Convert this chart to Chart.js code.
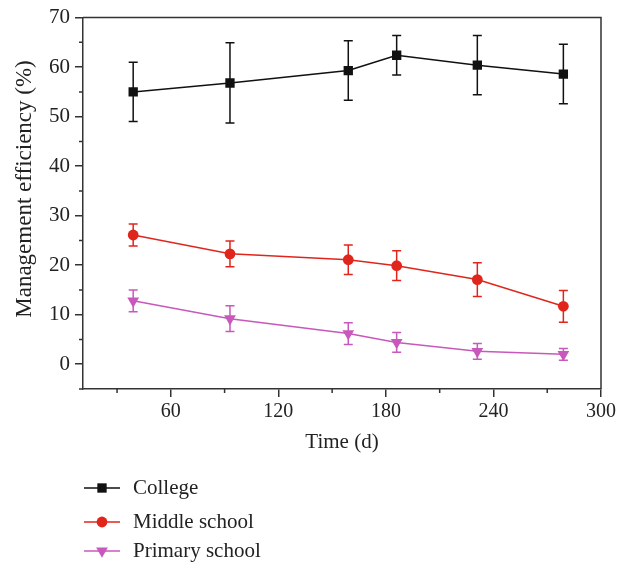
<!DOCTYPE html>
<html><head><meta charset="utf-8">
<script src="https://cdn.jsdelivr.net/npm/chart.js@4.4.0/dist/chart.umd.min.js"></script>
<style>html,body{margin:0;padding:0;background:#fff;}canvas{display:block;}</style>
</head><body>
<canvas id="c" width="628" height="565"></canvas>
<script>
const days = [39, 93, 159, 186, 231, 279];
const collegeValues = [55.0, 56.8, 59.3, 62.4, 60.4, 58.6];
const collegeErrors = [6.0, 8.1, 6.0, 4.0, 6.0, 6.0];
const middleValues = [26.1, 22.3, 21.1, 19.9, 17.1, 11.7];
const middleErrors = [2.2, 2.6, 3.0, 3.0, 3.4, 3.2];
const primaryValues = [12.8, 9.2, 6.2, 4.4, 2.6, 2.0];
const primaryErrors = [2.2, 2.6, 2.2, 2.0, 1.6, 1.2];
const seriesNames = ['College', 'Middle school', 'Primary school'];
const xTickValues = [60, 120, 180, 240, 300];
const xMinorTicks = [30, 90, 150, 210, 270];
const yTickValues = [0, 10, 20, 30, 40, 50, 60, 70];
const yMinorTicks = [-5, 5, 15, 25, 35, 45, 55, 65];
const xTitle = 'Time (d)';
const yTitle = 'Management efficiency (%)';

const FONT = "'Liberation Serif', 'DejaVu Serif', serif";
const AX = '#333';

function pts(vals){ return days.map((d,i)=>({x:d, y:vals[i]})); }

function drawMarker(ctx, style, x, y, r, color){
  ctx.save();
  ctx.fillStyle = color;
  ctx.beginPath();
  if (style === 'rect'){ const s = r*Math.SQRT1_2; ctx.rect(x-s, y-s, 2*s, 2*s); }
  else if (style === 'circle'){ ctx.arc(x, y, r, 0, Math.PI*2); }
  else {
    ctx.moveTo(x, y + r);
    ctx.lineTo(x - r*Math.sin(Math.PI/3), y - r*0.5);
    ctx.lineTo(x + r*Math.sin(Math.PI/3), y - r*0.5);
    ctx.closePath();
  }
  ctx.fill(); ctx.restore();
}

const errorBars = {
  id: 'errorBars',
  beforeDatasetsDraw(chart){
    const ctx = chart.ctx, xs = chart.scales.x, ys = chart.scales.y;
    chart.data.datasets.forEach(ds => {
      ctx.save();
      ctx.strokeStyle = ds.borderColor; ctx.lineWidth = 1.5;
      ds.data.forEach((p, i) => {
        const e = ds.errors[i];
        const px = xs.getPixelForValue(p.x);
        const top = ys.getPixelForValue(p.y + e), bot = ys.getPixelForValue(p.y - e);
        ctx.beginPath();
        ctx.moveTo(px, top); ctx.lineTo(px, bot);
        ctx.moveTo(px-4.5, top); ctx.lineTo(px+4.5, top);
        ctx.moveTo(px-4.5, bot); ctx.lineTo(px+4.5, bot);
        ctx.stroke();
      });
      ctx.restore();
    });
  }
};

const frame = {
  id: 'frame',
  afterDraw(chart){
    const ctx = chart.ctx, a = chart.chartArea, xs = chart.scales.x, ys = chart.scales.y;
    ctx.save();
    ctx.strokeStyle = AX; ctx.lineWidth = 1.5;
    ctx.beginPath();
    ctx.moveTo(a.left, a.top); ctx.lineTo(a.right, a.top); ctx.lineTo(a.right, a.bottom);
    xMinorTicks.forEach(v => { const px = xs.getPixelForValue(v); ctx.moveTo(px, a.bottom); ctx.lineTo(px, a.bottom + 4); });
    yMinorTicks.forEach(v => { const py = ys.getPixelForValue(v); ctx.moveTo(a.left, py); ctx.lineTo(a.left - 4, py); });
    ctx.stroke();
    // y axis title
    ctx.save();
    ctx.translate(25, 189); ctx.rotate(-Math.PI/2);
    ctx.fillStyle = '#222'; ctx.font = '23px ' + FONT; ctx.textAlign = 'center'; ctx.textBaseline = 'middle';
    ctx.fillText(yTitle, 0, 0);
    ctx.restore();
    // legend
    const rows = [488, 522, 551];
    chart.data.datasets.forEach((ds, i) => {
      const y = rows[i];
      ctx.strokeStyle = ds.borderColor; ctx.lineWidth = 1.5;
      ctx.beginPath(); ctx.moveTo(84, y); ctx.lineTo(120, y); ctx.stroke();
      drawMarker(ctx, ds.markerKind, 102, y, ds.pointRadius, ds.borderColor);
      ctx.fillStyle = '#222'; ctx.font = '21px ' + FONT; ctx.textBaseline = 'middle'; ctx.textAlign = 'left';
      ctx.fillText(ds.label, 133, y);
    });
    ctx.restore();
  }
};

new Chart(document.getElementById('c'), {
  type: 'line',
  data: {
    datasets: [
      { label: seriesNames[0], data: pts(collegeValues), errors: collegeErrors, borderColor: '#111111', backgroundColor: '#111111',
        pointStyle: 'rect', markerKind: 'rect', pointRadius: 6.6, pointHoverRadius: 6.6, borderWidth: 1.5, pointBorderWidth: 0 },
      { label: seriesNames[1], data: pts(middleValues), errors: middleErrors, borderColor: '#e0261c', backgroundColor: '#e0261c',
        pointStyle: 'circle', markerKind: 'circle', pointRadius: 5.4, pointHoverRadius: 5.4, borderWidth: 1.5, pointBorderWidth: 0 },
      { label: seriesNames[2], data: pts(primaryValues), errors: primaryErrors, borderColor: '#c858bb', backgroundColor: '#c858bb',
        pointStyle: 'triangle', markerKind: 'tri', pointRotation: 180, rotation: 180, pointRadius: 6.8, pointHoverRadius: 6.8, borderWidth: 1.5, pointBorderWidth: 0 }
    ]
  },
  options: {
    responsive: false, animation: false, devicePixelRatio: 1,
    layout: { padding: { left: 0, right: 27, top: 13, bottom: 106 } },
    plugins: { legend: { display: false }, tooltip: { enabled: false } },
    elements: { line: { tension: 0 } },
    scales: {
      x: {
        type: 'linear', min: 11, max: 300,
        afterBuildTicks: s => { s.ticks = xTickValues.map(v => ({ value: v })); },
        afterFit: s => { s.height = 70; },
        grid: { display: true, drawOnChartArea: false, drawTicks: true, tickLength: 8, color: AX, lineWidth: 1.5 },
        border: { display: true, color: AX, width: 1.5 },
        ticks: { color: '#222', font: { family: FONT, size: 20 }, padding: 3, maxRotation: 0 },
        title: { display: true, text: xTitle, color: '#222', font: { family: FONT, size: 21 }, padding: { top: 2 } }
      },
      y: {
        type: 'linear', min: -5, max: 70,
        afterBuildTicks: s => { s.ticks = yTickValues.map(v => ({ value: v })); },
        afterFit: s => { s.width = 83; },
        grid: { display: true, drawOnChartArea: false, drawTicks: true, tickLength: 8, color: AX, lineWidth: 1.5 },
        border: { display: true, color: AX, width: 1.5 },
        ticks: { color: '#222', font: { family: FONT, size: 21 }, padding: 5 },
        title: { display: false, text: yTitle }
      }
    }
  },
  plugins: [errorBars, frame]
});
</script>
</body></html>
